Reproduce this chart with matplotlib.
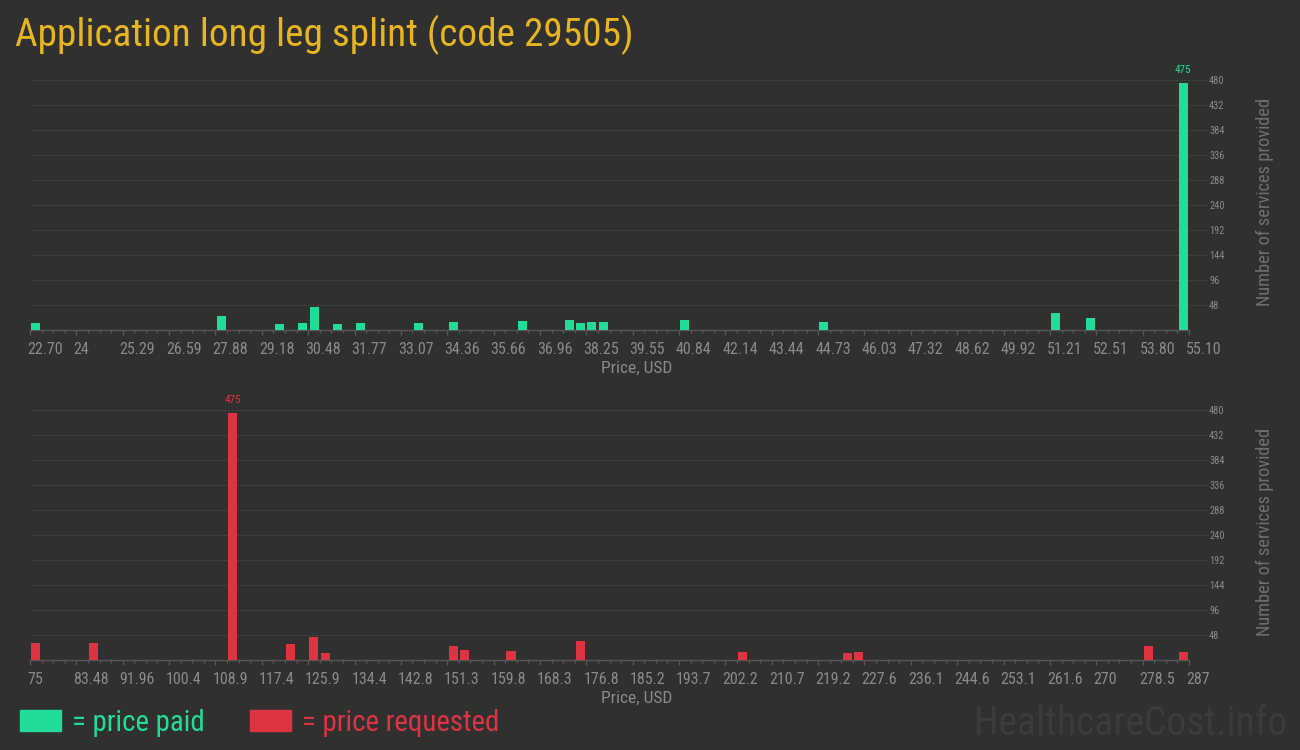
import matplotlib
matplotlib.use("Agg")
import matplotlib.pyplot as plt
from matplotlib import font_manager as fm
from matplotlib.patches import Rectangle
import matplotlib.transforms as mtransforms
import numpy as np

# ---------------- data ----------------
title = "Application long leg splint (code 29505)"

paid_price = [22.86, 28.05, 29.67, 30.31, 30.64, 31.29, 31.93, 33.55, 34.53, 36.47,
              37.77, 38.09, 38.41, 38.74, 41.01, 44.89, 51.37, 52.35, 54.94]
paid_count = [13, 26, 11, 13, 45, 11, 13, 13, 15, 18,
              20, 13, 16, 15, 20, 15, 32, 24, 475]
paid_ticks = ["22.70", "24", "25.29", "26.59", "27.88", "29.18", "30.48", "31.77",
              "33.07", "34.36", "35.66", "36.96", "38.25", "39.55", "40.84", "42.14",
              "43.44", "44.73", "46.03", "47.32", "48.62", "49.92", "51.21", "52.51",
              "53.80", "55.10"]

req_price = [76.06, 86.66, 112.10, 122.70, 126.94, 129.06, 152.38, 154.50, 162.98,
             175.70, 205.38, 224.46, 226.58, 279.58, 285.94]
req_count = [32, 32, 475, 30, 45, 13, 26, 20, 17, 36, 15, 13, 15, 26, 15]
req_ticks = ["75", "83.48", "91.96", "100.4", "108.9", "117.4", "125.9", "134.4",
             "142.8", "151.3", "159.8", "168.3", "176.8", "185.2", "193.7", "202.2",
             "210.7", "219.2", "227.6", "236.1", "244.6", "253.1", "261.6", "270",
             "278.5", "287"]

y_ticks = [48, 96, 144, 192, 240, 288, 336, 384, 432, 480]

x_label = "Price, USD"
y_label = "Number of services provided"
legend_labels = ["= price paid", "= price requested"]
watermark = "HealthcareCost.info"

# ---------------- style ----------------
BG = "#303030"
GREEN = "#22dc9a"
RED = "#de3341"
GOLD = "#e8b51f"
TICKC = "#8a8a8a"
AXC = "#565656"
GRIDC = "#4b4b4b"

names = {f.name for f in fm.fontManager.ttflist}


def cond_fp(size):
    for n in ["Roboto Condensed", "Liberation Sans Narrow", "DejaVu Sans Condensed",
              "Open Sans Condensed"]:
        if n in names:
            return fm.FontProperties(family=n, size=size)
    for f in fm.fontManager.ttflist:
        if "condensed" in str(f.stretch).lower() or "Condensed" in f.fname:
            return fm.FontProperties(fname=f.fname, size=size)
    return fm.FontProperties(family="Roboto", size=size)


W, H = 1300, 750
fig = plt.figure(figsize=(W / 100, H / 100), dpi=100, facecolor=BG)


def fx(px):
    return px / W


def fy(py):
    return 1 - py / H


def make_panel(base_px, prices, counts, ticks, color):
    left, right = 30, 1189
    top_px = base_px - 260
    ax = fig.add_axes([fx(left), fy(base_px), fx(right - left), (base_px - top_px) / H])
    ax.set_facecolor("none")
    lo, hi = float(ticks[0]), float(ticks[-1])
    ax.set_xlim(lo, hi)
    ax.set_ylim(0, 500)
    step = (hi - lo) / (len(ticks) - 1)
    binw = step / 4
    ax.bar(prices, counts, width=binw * 0.78, color=color, zorder=3)
    # value label over the tallest bar
    k = int(np.argmax(counts))
    ax.annotate(str(counts[k]), (prices[k], counts[k]), xytext=(0, 6),
                textcoords="offset points", ha="center", va="bottom",
                color=color, fontproperties=cond_fp(8))
    # grid
    for y in y_ticks:
        ax.plot([0.002, 1.016], [y, y], transform=ax.get_yaxis_transform(),
                ls=(0, (2, 2)), color=GRIDC, lw=0.72, clip_on=False, zorder=0)
    for s in ["top", "left", "right"]:
        ax.spines[s].set_visible(False)
    ax.spines["bottom"].set_color(AXC)
    ax.spines["bottom"].set_linewidth(1)
    pos = np.linspace(lo, hi, len(ticks))
    ax.set_xticks(pos)
    ax.set_xticklabels(ticks)
    ax.set_xticks(np.linspace(lo, hi, (len(ticks) - 1) * 4 + 1), minor=True)
    ax.tick_params(axis="x", which="major", length=3.5, width=1, color=AXC,
                   labelcolor=TICKC, pad=5)
    ax.tick_params(axis="x", which="minor", length=2, width=1, color=AXC)
    off = mtransforms.ScaledTranslation(-3 / 100, 0, fig.dpi_scale_trans)
    for lbl in ax.get_xticklabels():
        lbl.set_fontproperties(cond_fp(11.5))
        lbl.set_ha("left")
        lbl.set_transform(lbl.get_transform() + off)
    ax.yaxis.tick_right()
    ax.set_yticks(y_ticks)
    ax.tick_params(axis="y", length=0, pad=14.5, labelcolor=TICKC)
    for lbl in ax.get_yticklabels():
        lbl.set_fontproperties(cond_fp(7.5))
    fig.text(fx(637), fy(base_px + 38), x_label, ha="center", va="center",
             color=TICKC, fontproperties=cond_fp(12.5))
    fig.text(fx(1265), fy(base_px - 128), y_label, ha="center", va="center",
             rotation=90, color="#6f6f6f", fontproperties=cond_fp(13.2))
    return ax


make_panel(330, paid_price, paid_count, paid_ticks, GREEN)
make_panel(660, req_price, req_count, req_ticks, RED)

fig.text(fx(15), fy(46), title, ha="left", va="baseline", color=GOLD,
         fontproperties=cond_fp(28.3))

fig.patches.append(Rectangle((fx(20), fy(731)), fx(41), 21 / H, transform=fig.transFigure,
                             color=GREEN, figure=fig))
fig.patches.append(Rectangle((fx(250), fy(731)), fx(41), 21 / H, transform=fig.transFigure,
                             color=RED, figure=fig))
fig.text(fx(72), fy(731), legend_labels[0], ha="left", va="baseline", color=GREEN,
         fontproperties=cond_fp(20.8))
fig.text(fx(302), fy(731), legend_labels[1], ha="left", va="baseline", color=RED,
         fontproperties=cond_fp(20.8))
fig.text(fx(1287), fy(735), watermark, ha="right", va="baseline", color="#3b3b3b",
         fontproperties=cond_fp(28.5))

fig.savefig("out.png", dpi=100, facecolor=BG)
